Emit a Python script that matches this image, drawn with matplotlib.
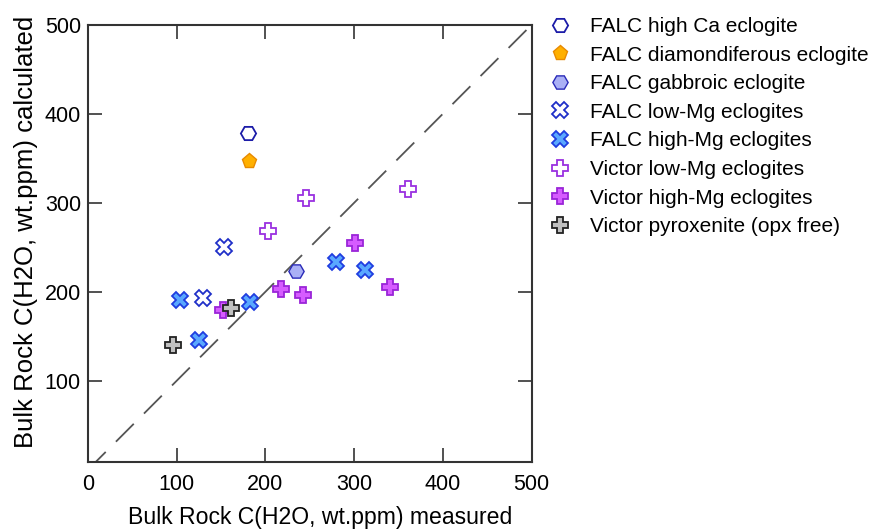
import matplotlib.pyplot as plt

plt.rcParams['font.family'] = ['Liberation Sans', 'DejaVu Sans']

# measured (x) and calculated (y) bulk rock C(H2O), wt.ppm
high_ca_x = [181]
high_ca_y = [378]
diamond_x = [182]
diamond_y = [347]
gabbro_x = [235]
gabbro_y = [223]
falc_low_x = [153, 130]
falc_low_y = [250, 193]
falc_high_x = [104, 125, 183, 280, 312]
falc_high_y = [191, 146, 189, 233, 224]
vic_low_x = [203, 246, 361]
vic_low_y = [268, 306, 315]
vic_high_x = [152, 218, 242, 301, 340]
vic_high_y = [180, 203, 197, 255, 206]
pyrox_x = [96, 161]
pyrox_y = [140, 182]

fig = plt.figure(figsize=(8.7, 5.29), dpi=100)
ax = fig.add_axes([0.101, 0.127, 0.51, 0.826])

ax.plot([0, 500], [0, 500], color='#555555', lw=1.3, dashes=(14, 8), zorder=1)

ms = 11
ax.plot(high_ca_x, high_ca_y, 'H', ms=ms, mfc='white', mec='#1c1ca8', mew=1.3, ls='none',
        label='FALC high Ca eclogite')
ax.plot(diamond_x, diamond_y, 'p', ms=ms, mfc='#ffb000', mec='#e88a00', mew=1.0, ls='none',
        label='FALC diamondiferous eclogite')
ax.plot(gabbro_x, gabbro_y, 'H', ms=ms, mfc='#aab0f5', mec='#2a2ab8', mew=1.0, ls='none',
        label='FALC gabbroic eclogite')
ax.plot(falc_low_x, falc_low_y, 'X', ms=ms + 1, mfc='white', mec='#1f2fc8', mew=1.3, ls='none',
        label='FALC low-Mg eclogites')
ax.plot(falc_high_x, falc_high_y, 'X', ms=ms + 1, mfc='#5aa8ff', mec='#1f3de0', mew=1.3, ls='none',
        label='FALC high-Mg eclogites')
ax.plot(vic_low_x, vic_low_y, 'P', ms=ms + 1, mfc='white', mec='#9a30e0', mew=1.3, ls='none',
        label='Victor low-Mg eclogites')
ax.plot(vic_high_x, vic_high_y, 'P', ms=ms + 1, mfc='#d65cff', mec='#9a25d8', mew=1.3, ls='none',
        label='Victor high-Mg eclogites')
ax.plot(pyrox_x, pyrox_y, 'P', ms=ms + 1, mfc='#c0c0c0', mec='#222222', mew=1.3, ls='none',
        label='Victor pyroxenite (opx free)')

ax.set_xlim(0, 500)
ax.set_ylim(9, 500)
ax.set_xticks([0, 100, 200, 300, 400, 500])
ax.set_yticks([100, 200, 300, 400, 500])
ax.tick_params(direction='in', length=10, width=1.2, top=True, right=True,
               labelsize=15.5, color='#333333')
ax.tick_params(axis='x', pad=9)
ax.tick_params(axis='y', pad=5)
for s in ax.spines.values():
    s.set_linewidth(1.5)
    s.set_color('#333333')

ax.set_xlabel('Bulk Rock C(H2O, wt.ppm) measured', fontsize=16.6, labelpad=8)
ax.set_ylabel('Bulk Rock C(H2O, wt.ppm) calculated', fontsize=18.5, labelpad=5)
ax.xaxis.label.set_x(0.524)
ax.yaxis.label.set_y(0.526)

fig.legend(loc='upper left', bbox_to_anchor=(550 / 870, 1 - 17 / 529), frameon=False,
           fontsize=15.0, handletextpad=0.9, labelspacing=0.46, handlelength=1.0,
           borderpad=0, borderaxespad=0, markerscale=1.0)

fig.savefig('out.png', dpi=100)
